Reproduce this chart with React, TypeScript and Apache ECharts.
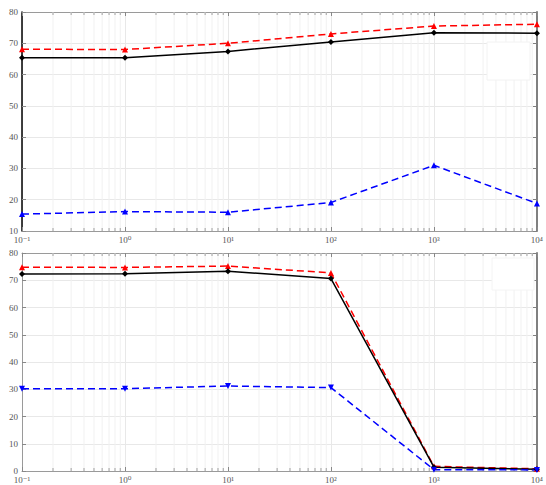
import React, { useEffect, useRef } from "react";
import * as echarts from "echarts";

const xValues = [0.1, 1, 10, 100, 1000, 10000];
const xTickLabels: Record<string, string> = {
  "-1": "10⁻¹",
  "0": "10⁰",
  "1": "10¹",
  "2": "10²",
  "3": "10³",
  "4": "10⁴",
};

const topRed = [68.1, 68.0, 70.0, 73.0, 75.5, 76.1];
const topBlack = [65.4, 65.4, 67.4, 70.4, 73.4, 73.2];
const topBlue = [15.4, 16.2, 16.0, 19.1, 31.0, 18.8];

const botRed = [74.8, 74.7, 75.2, 72.7, 1.7, 0.8];
const botBlack = [72.3, 72.4, 73.3, 70.6, 1.4, 0.6];
const botBlue = [30.2, 30.2, 31.2, 30.6, 0.5, 0.4];

const xExpMin = -1;
const xExpMax = 4;
const topYMin = 10;
const botYMin = 0;
const yMax = 80;

const serif = "Liberation Serif, DejaVu Serif, serif";

function minorPositions(): number[][] {
  const out: number[][] = [];
  for (let e = xExpMin; e < xExpMax; e++) {
    for (let k = 2; k <= 9; k++) out.push([Math.log10(k * Math.pow(10, e))]);
  }
  return out;
}

export default function App() {
  const ref = useRef<HTMLDivElement>(null);
  useEffect(() => {
    const chart = echarts.init(ref.current!, null, { renderer: "svg" });
    const minors = minorPositions();

    const mkX = (gi: number) => [
      {
        type: "value",
        gridIndex: gi,
        min: xExpMin,
        max: xExpMax,
        interval: 1,
        axisLine: { show: true, onZero: false, lineStyle: { color: "#9a9a9a", width: 1 } },
        axisTick: { show: true, inside: true, length: 4, lineStyle: { color: "#888" } },
        splitLine: { show: true, lineStyle: { color: "#e8e8e8", width: 1 } },
        axisLabel: {
          margin: 4,
          fontSize: 9,
          fontFamily: serif,
          color: "#555",
          formatter: (v: number) => xTickLabels[String(v)] ?? "",
        },
      },
      {
        type: "value",
        gridIndex: gi,
        position: "top",
        min: xExpMin,
        max: xExpMax,
        interval: 1,
        axisLine: { show: true, onZero: false, lineStyle: { color: "#9a9a9a", width: 1 } },
        axisTick: { show: true, inside: true, length: 4, lineStyle: { color: "#888" } },
        splitLine: { show: false },
        axisLabel: { show: false },
      },
    ];

    const mkY = (gi: number, min: number, leftColor: string, leftWidth: number) => [
      {
        type: "value",
        gridIndex: gi,
        min,
        max: yMax,
        interval: 10,
        axisLine: { show: true, onZero: false, lineStyle: { color: leftColor, width: leftWidth } },
        axisTick: { show: true, inside: true, length: 4, lineStyle: { color: "#888" } },
        splitLine: { show: true, lineStyle: { color: "#e8e8e8", width: 1 } },
        axisLabel: { margin: 4, fontSize: 9, fontFamily: serif, color: "#555" },
      },
      {
        type: "value",
        gridIndex: gi,
        position: "right",
        min,
        max: yMax,
        interval: 10,
        axisLine: { show: true, onZero: false, lineStyle: { color: "#808080", width: 2 } },
        axisTick: { show: true, inside: true, length: 4, lineStyle: { color: "#808080" } },
        splitLine: { show: false },
        axisLabel: { show: false },
      },
    ];

    const minorSeries = (xi: number, yi: number, ymin: number) => ({
      type: "custom",
      xAxisIndex: xi,
      yAxisIndex: yi,
      silent: true,
      z: 1,
      data: minors,
      renderItem: (_p: any, api: any) => {
        const x = api.value(0);
        const t = api.coord([x, yMax]);
        const b = api.coord([x, ymin]);
        return {
          type: "group",
          children: [
            { type: "line", shape: { x1: t[0], y1: t[1], x2: b[0], y2: b[1] }, style: { stroke: "#f1f1f1", lineWidth: 1 } },
            { type: "line", shape: { x1: b[0], y1: b[1], x2: b[0], y2: b[1] - 3 }, style: { stroke: "#a0a0a0", lineWidth: 1 } },
            { type: "line", shape: { x1: t[0], y1: t[1], x2: t[0], y2: t[1] + 3 }, style: { stroke: "#a0a0a0", lineWidth: 1 } },
          ],
        };
      },
    });

    const pts = (vals: number[]) => xValues.map((x, i) => [Math.log10(x), vals[i]]);

    const line = (xi: number, yi: number, vals: number[], color: string, dashed: boolean, symbol: string, rotate = 0, size = 6) => ({
      type: "line",
      xAxisIndex: xi,
      yAxisIndex: yi,
      data: pts(vals),
      symbol,
      symbolSize: size,
      symbolRotate: rotate,
      showSymbol: true,
      z: 5,
      lineStyle: { color, width: 1.5, type: dashed ? [7, 4] : "solid" },
      itemStyle: { color, borderWidth: 0 },
    });

    chart.setOption({
      animation: false,
      backgroundColor: "#ffffff",
      grid: [
        { left: 22, top: 12, width: 518, height: 219 },
        { left: 22, top: 253, width: 518, height: 218 },
      ],
      xAxis: [...mkX(0), ...mkX(1)],
      yAxis: [...mkY(0, topYMin, "#000000", 1.5), ...mkY(1, botYMin, "#9a9a9a", 1)],
      graphic: [
        { type: "rect", shape: { x: 487, y: 42, width: 43, height: 38 }, style: { fill: "#ffffff", stroke: "#f2f2f2" }, z: 3 },
        { type: "rect", shape: { x: 492, y: 258, width: 42, height: 32 }, style: { fill: "#ffffff", stroke: "#f4f4f4" }, z: 3 },
      ],
      series: [
        minorSeries(0, 0, topYMin),
        minorSeries(2, 2, botYMin),
        line(0, 0, topRed, "#ff0000", true, "triangle", 0, 6),
        line(0, 0, topBlack, "#000000", false, "diamond", 0, 6),
        line(0, 0, topBlue, "#0000ff", true, "triangle", 0, 6),
        line(2, 2, botRed, "#ff0000", true, "triangle", 0, 6),
        line(2, 2, botBlack, "#000000", false, "diamond", 0, 6),
        line(2, 2, botBlue, "#0000ff", true, "triangle", 180, 6),
      ],
    });
    return () => chart.dispose();
  }, []);
  return <div ref={ref} style={{ position: "absolute", left: 0, top: 0, width: 546, height: 485 }} />;
}
